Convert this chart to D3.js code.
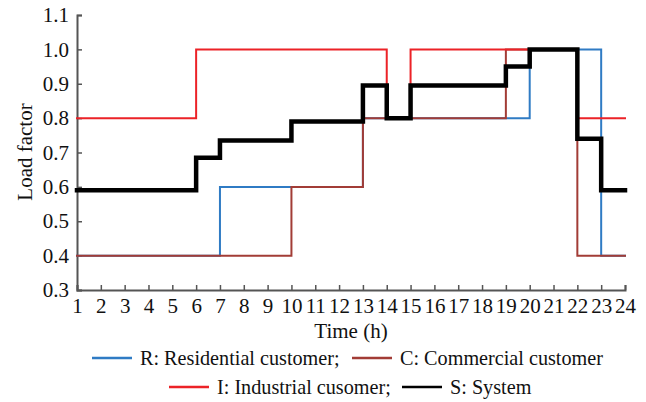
<!DOCTYPE html>
<html>
<head>
<meta charset="utf-8">
<script src="https://cdn.jsdelivr.net/npm/d3@7"></script>
<style>
  html, body { margin: 0; padding: 0; background: #fff; }
  svg { display: block; font-family: "Liberation Serif", "Times New Roman", serif; }
</style>
</head>
<body>
<svg id="chart" width="646" height="402"></svg>
<script>
// Hour boundaries 1..24; each value holds from its hour to the next (step after).
const hours = [1, 2, 3, 4, 5, 6, 7, 8, 9, 10, 11, 12, 13, 14, 15, 16, 17, 18, 19, 20, 21, 22, 23, 24];
const residential = [0.4, 0.4, 0.4, 0.4, 0.4, 0.4, 0.6, 0.6, 0.6, 0.6, 0.6, 0.6, 0.8, 0.8, 0.8, 0.8, 0.8, 0.8, 0.8, 1.0, 1.0, 1.0, 0.4, 0.4];
const commercial  = [0.4, 0.4, 0.4, 0.4, 0.4, 0.4, 0.4, 0.4, 0.4, 0.6, 0.6, 0.6, 0.8, 0.8, 0.8, 0.8, 0.8, 0.8, 1.0, 1.0, 1.0, 0.4, 0.4, 0.4];
const industrial  = [0.8, 0.8, 0.8, 0.8, 0.8, 1.0, 1.0, 1.0, 1.0, 1.0, 1.0, 1.0, 1.0, 0.8, 1.0, 1.0, 1.0, 1.0, 1.0, 1.0, 1.0, 0.8, 0.8, 0.8];
const system      = [0.59, 0.59, 0.59, 0.59, 0.59, 0.685, 0.735, 0.735, 0.735, 0.79, 0.79, 0.79, 0.895, 0.8, 0.895, 0.895, 0.895, 0.895, 0.95, 1.0, 1.0, 0.74, 0.59, 0.59];
const yTicks = [0.3, 0.4, 0.5, 0.6, 0.7, 0.8, 0.9, 1.0, 1.1];

const seriesNames = ["R: Residential customer;", "C: Commercial customer", "I: Industrial cusomer;", "S: System"];
const seriesColors = ["#2f7bc4", "#a23c36", "#ec2227", "#000000"];
const seriesWidths = [2, 2, 2, 4.5];
const seriesData = [residential, commercial, industrial, system];

const svg = d3.select("#chart");
const plotLeft = 77, plotRight = 625, plotTop = 15, plotBottom = 290;
const fontSize = "21px";
const legendFontSize = "20.2px";

const x = d3.scaleLinear().domain([1, 24]).range([plotLeft, plotRight]);
const y = d3.scaleLinear().domain([0.3, 1.1]).range([plotBottom, plotTop]);

const axisColor = "#555";

// Y axis
const gy = svg.append("g")
  .attr("transform", `translate(${plotLeft},0)`)
  .call(d3.axisLeft(y).tickValues(yTicks).tickFormat(d3.format(".1f")).tickSize(-5).tickPadding(8));
// X axis
const gx = svg.append("g")
  .attr("transform", `translate(0,${plotBottom})`)
  .call(d3.axisBottom(x).tickValues(hours).tickFormat(d3.format("d")).tickSize(-5).tickPadding(8));

[gx, gy].forEach(g => {
  g.select(".domain").attr("stroke", axisColor).attr("stroke-width", 2);
  g.selectAll(".tick line").attr("stroke", axisColor).attr("stroke-width", 1.5);
  g.selectAll(".tick text").attr("fill", "#111").style("font-size", fontSize)
    .style("font-family", "'Liberation Serif', serif");
});

// Step lines
const line = d3.line()
  .x((d, i) => x(hours[i]))
  .y(d => y(d))
  .curve(d3.curveStepAfter);

seriesData.forEach((vals, i) => {
  svg.append("path")
    .datum(vals)
    .attr("fill", "none")
    .attr("stroke", seriesColors[i])
    .attr("stroke-width", seriesWidths[i])
    .attr("stroke-linejoin", "miter")
    .attr("stroke-linecap", "square")
    .attr("d", line);
});

// Axis titles
svg.append("text")
  .attr("x", (plotLeft + plotRight) / 2)
  .attr("y", 338)
  .attr("text-anchor", "middle")
  .style("font-size", fontSize)
  .attr("fill", "#111")
  .text("Time (h)");

svg.append("text")
  .attr("transform", `translate(32,152) rotate(-90)`)
  .attr("text-anchor", "middle")
  .style("font-size", fontSize)
  .attr("fill", "#111")
  .text("Load factor");

// Legend, two rows
const legendPos = [
  { lx: 92, ty: 358 },
  { lx: 352, ty: 358 },
  { lx: 169, ty: 387 },
  { lx: 402, ty: 387 }
];
seriesNames.forEach((name, i) => {
  const p = legendPos[i];
  svg.append("line")
    .attr("x1", p.lx).attr("x2", p.lx + 40)
    .attr("y1", p.ty).attr("y2", p.ty)
    .attr("stroke", seriesColors[i])
    .attr("stroke-width", 2.5);
  svg.append("text")
    .attr("x", p.lx + 48)
    .attr("y", p.ty + 7)
    .style("font-size", legendFontSize)
    .attr("fill", "#111")
    .text(name);
});
</script>
</body>
</html>
